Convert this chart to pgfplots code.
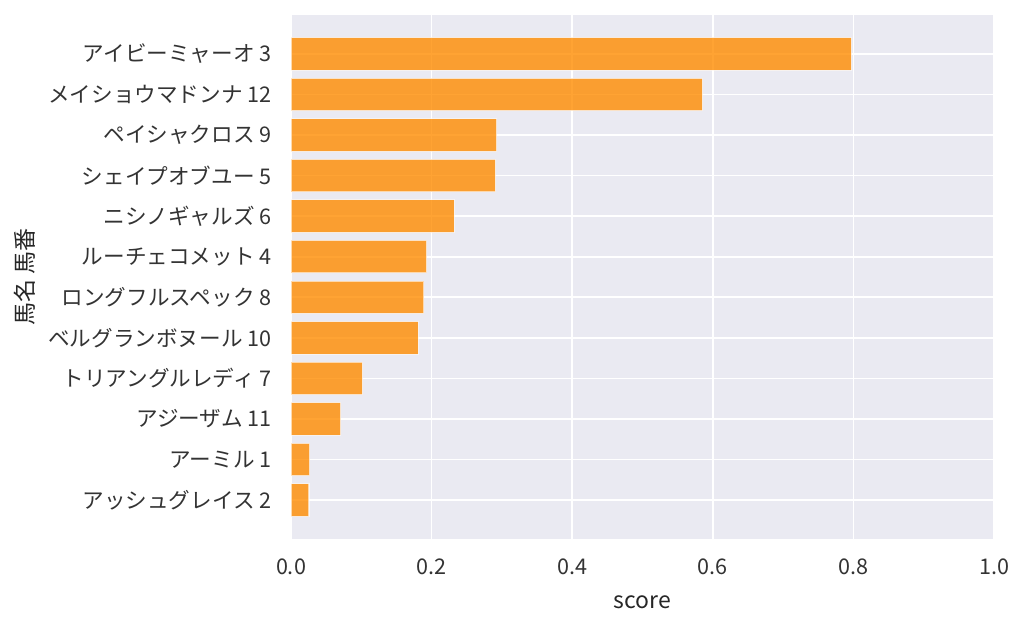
\documentclass[border=0pt]{standalone}
\usepackage{pgfplots}
\pgfplotsset{compat=1.18}
\usepackage{fontspec}
\setmainfont{Noto Sans CJK JP}
\definecolor{bg}{RGB}{234,234,242}
\definecolor{barc}{RGB}{255,140,0}
\begin{document}
\begin{tikzpicture}[x=1bp,y=1bp]
\useasboundingbox (0,0) rectangle (1024,627);
\begin{axis}[
  at={(291bp,88bp)}, anchor=south west,
  scale only axis, width=703bp, height=524bp,
  xmin=0, xmax=1, ymin=-0.96, ymax=11.96,
  y dir=reverse,
  axis background/.style={fill=bg},
  axis line style={draw=none},
  major tick length=0pt,
  xtick={0,0.2,0.4,0.6,0.8,1.0},
  xticklabels={0.0,0.2,0.4,0.6,0.8,1.0},
  ytick={0,...,11},
  yticklabels={アイビーミャーオ 3,メイショウマドンナ 12,ペイシャクロス 9,シェイプオブユー 5,ニシノギャルズ 6,ルーチェコメット 4,ロングフルスペック 8,ベルグランボヌール 10,トリアングルレディ 7,アジーザム 11,アーミル 1,アッシュグレイス 2},
  grid=major,
  major grid style={white, line width=1.6bp},
  tick label style={font=\fontsize{21.6bp}{25bp}\selectfont, text=black!80},
  /pgf/number format/assume math mode=true,
  xticklabel style={yshift=-16bp},
  yticklabel style={xshift=-16bp},
  xlabel={score},
  ylabel={馬名 馬番},
  label style={font=\fontsize{23bp}{27bp}\selectfont, text=black!85},
  xlabel style={at={(axis description cs:0.5,0)}, anchor=base, yshift=-69bp},
  ylabel style={at={(axis description cs:-0.3784,0.5)}, anchor=center},
  clip=false,
]
\addplot[xbar, bar width=0.8, fill=barc, fill opacity=0.8, draw=white, draw opacity=0.6, line width=1bp]
coordinates {
(0.797,0) (0.585,1) (0.2926,2) (0.2906,3) (0.232,4) (0.193,5) (0.189,6) (0.181,7) (0.1014,8) (0.0707,9) (0.0266,10) (0.0256,11)
};
\end{axis}
\end{tikzpicture}
\end{document}
